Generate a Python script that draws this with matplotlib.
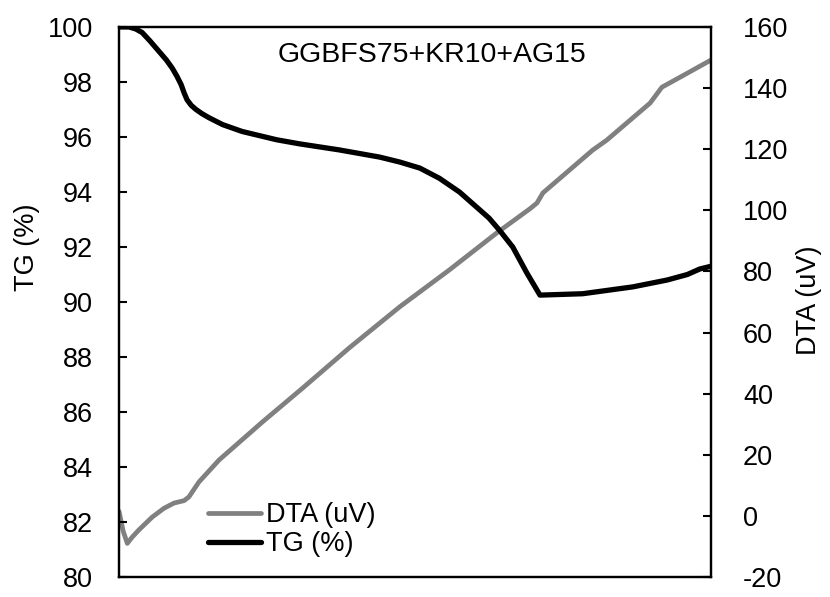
import matplotlib
matplotlib.use("Agg")
import matplotlib.pyplot as plt

plt.rcParams['font.family'] = ['Liberation Sans', 'DejaVu Sans']

# Temperature positions (arbitrary 0-1000 scale, x axis is unlabeled)
tg_temp = [0, 17, 28, 39, 52, 68, 80, 90, 98, 105, 110, 115, 122, 130, 140, 152,
           175, 208, 266, 305, 372, 440, 474, 508, 541, 575, 604, 625, 643, 665,
           689, 711, 783, 868, 926, 960, 981, 1000]
tg_vals = [100.0, 100.0, 99.93, 99.8, 99.5, 99.1, 98.8, 98.5, 98.2, 97.9, 97.6,
           97.35, 97.15, 97.0, 96.85, 96.7, 96.45, 96.2, 95.9, 95.75, 95.53,
           95.27, 95.09, 94.87, 94.5, 94.0, 93.45, 93.05, 92.6, 92.0, 91.05,
           90.25, 90.3, 90.55, 90.8, 91.0, 91.2, 91.3]

dta_temp = [0, 7, 14, 22, 34, 56, 76, 93, 110, 118, 135, 169, 242, 310, 389, 474,
            558, 638, 694, 706, 716, 800, 824, 897, 917, 948, 1000]
dta_vals = [1.5, -5, -9, -7, -4.5, -0.4, 2.5, 4.2, 5.0, 6.2, 11.1, 18.3, 30.7,
            41.8, 55, 68.4, 80.5, 92.6, 100.5, 102.4, 105.7, 119.7, 123, 135.1,
            140.3, 143.6, 149.2]

fs = 19.5

fig = plt.figure(figsize=(8.30, 5.97), dpi=100)
ax = fig.add_axes([0.1434, 0.0335, 0.7133, 0.9213])
ax2 = ax.twinx()

# DTA on the secondary axis (drawn under TG)
ax.set_zorder(ax2.get_zorder() + 1)
ax.patch.set_visible(False)
l_dta, = ax2.plot(dta_temp, dta_vals, color='#808080', lw=3.4,
                  solid_joinstyle='round', solid_capstyle='round', label='DTA (uV)')
l_tg, = ax.plot(tg_temp, tg_vals, color='black', lw=3.8,
                solid_joinstyle='round', solid_capstyle='round', label='TG (%)')

ax.set_xlim(0, 1000)
ax.set_ylim(80, 100)
ax.set_yticks(range(80, 101, 2))
ax2.set_ylim(-20, 160)
ax2.set_yticks(range(-20, 161, 20))
ax2.set_yticklabels([str(v) for v in range(-20, 161, 20)])
ax.set_xticks([])

ax.tick_params(axis='y', direction='in', length=6, width=1.5, labelsize=fs, pad=19)
ax2.tick_params(axis='y', direction='in', length=6, width=1.5, labelsize=fs, pad=23)

for a in (ax, ax2):
    for s in a.spines.values():
        s.set_linewidth(1.6)
        s.set_color('black')

# axis titles placed like the original
fig.text(27 / 830, 1 - 247 / 597, 'TG (%)', rotation=90, ha='center', va='center', fontsize=fs)
fig.text(809 / 830, 1 - 300 / 597, 'DTA (uV)', rotation=90, ha='center', va='center', fontsize=fs)

ax.text(0.529, 0.949, 'GGBFS75+KR10+AG15', transform=ax.transAxes,
        ha='center', va='center', fontsize=20.5)

ax.legend([l_dta, l_tg], ['DTA (uV)', 'TG (%)'], loc='center',
          bbox_to_anchor=(0.292, 0.086), frameon=False, fontsize=fs,
          handlelength=1.96, handletextpad=0.2, labelspacing=0.12,
          borderpad=0.2)

fig.savefig('out.png', dpi=100)
